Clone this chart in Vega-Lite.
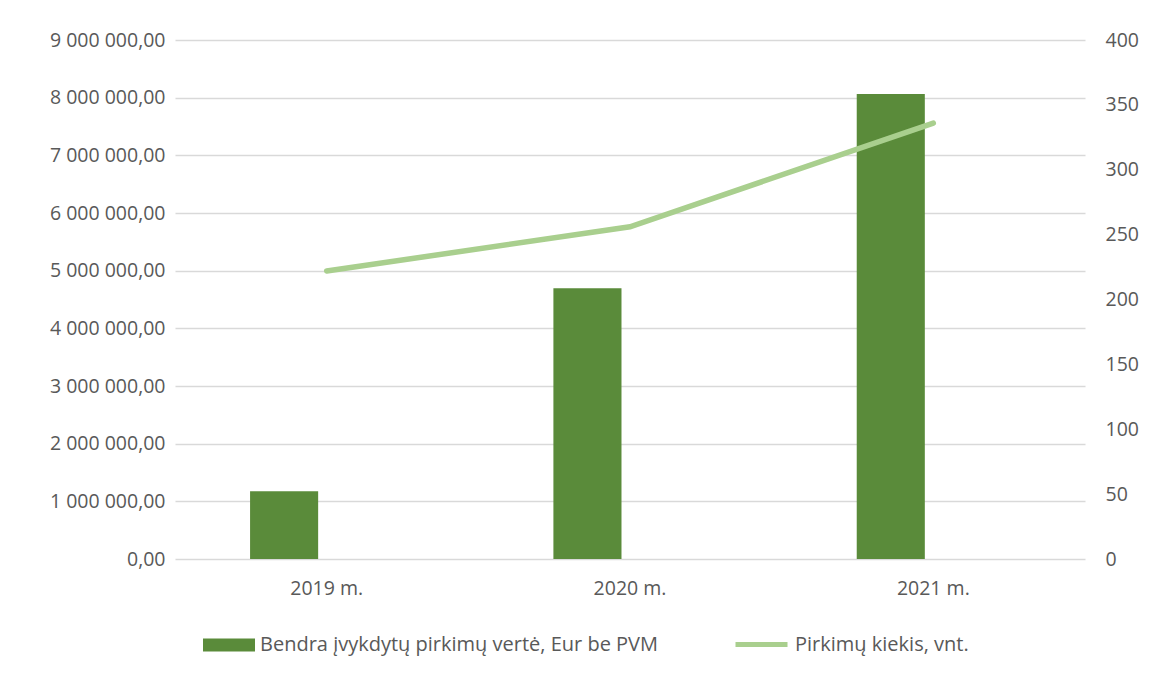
{
  "$schema": "https://vega.github.io/schema/vega-lite/v6.json",
  "width": 910,
  "height": 519,
  "autosize": "none",
  "padding": {"left": 175, "top": 40, "right": 67, "bottom": 116},
  "background": "white",
  "config": {
    "locale": {"number": {"decimal": ",", "thousands": " ", "grouping": [3], "currency": ["", " €"]}},
    "font": "Open Sans",
    "view": {"stroke": null},
    "axis": {"labelFont": "Open Sans", "labelFontSize": 19.5, "labelColor": "#595959", "domain": false, "ticks": false, "title": null},
    "legend": {"labelFont": "Open Sans", "labelFontSize": 20, "labelColor": "#595959", "padding": 0, "offset": 0, "labelLimit": 600}
  },
  "data": {
    "values": [
      {"year": "2019 m.", "value": 1174000, "count": 222},
      {"year": "2020 m.", "value": 4694000, "count": 256},
      {"year": "2021 m.", "value": 8063000, "count": 336}
    ]
  },
  "encoding": {
    "x": {"field": "year", "type": "nominal", "sort": null,
      "scale": {"paddingInner": 0, "paddingOuter": 0},
      "axis": {"labelAngle": 0, "labelPadding": 20, "grid": false}}
  },
  "layer": [
    {
      "mark": {"type": "bar", "color": "#5a8b3a"},
      "encoding": {
        "xOffset": {"datum": "A", "scale": {"domain": ["A", "B"], "paddingInner": 0.2, "paddingOuter": 0.882}},
        "y": {"field": "value", "type": "quantitative",
          "scale": {"domain": [0, 9000000]},
          "axis": {"values": [0,1000000,2000000,3000000,4000000,5000000,6000000,7000000,8000000,9000000], "format": ",.2f", "grid": true, "gridColor": "#d9d9d9", "gridWidth": 1.3, "labelPadding": 10}},
        "color": {"datum": "Bendra įvykdytų pirkimų vertė, Eur be PVM", "type": "nominal",
          "scale": {"range": ["#5a8b3a"]},
          "legend": {"title": null, "orient": "none", "legendX": 28, "legendY": 579, "symbolType": "M-1,-0.25L1,-0.25L1,0.25L-1,0.25Z", "symbolSize": 2704, "symbolStrokeWidth": 0, "labelOffset": 5}}
      }
    },
    {
      "mark": {"type": "line", "strokeWidth": 5.5, "strokeCap": "round", "color": "#a9cf8e"},
      "encoding": {
        "y": {"field": "count", "type": "quantitative",
          "scale": {"domain": [0, 400]},
          "axis": {"orient": "right", "values": [0,50,100,150,200,250,300,350,400], "grid": false, "labelPadding": 20}},
        "stroke": {"datum": "Pirkimų kiekis, vnt.", "type": "nominal",
          "scale": {"range": ["#a9cf8e"]},
          "legend": {"title": null, "orient": "none", "legendX": 558, "legendY": 576, "symbolType": "M-1,0L1,0", "symbolSize": 2704, "symbolStrokeWidth": 5, "labelOffset": 5}}
      }
    }
  ],
  "resolve": {"scale": {"y": "independent"}}
}
